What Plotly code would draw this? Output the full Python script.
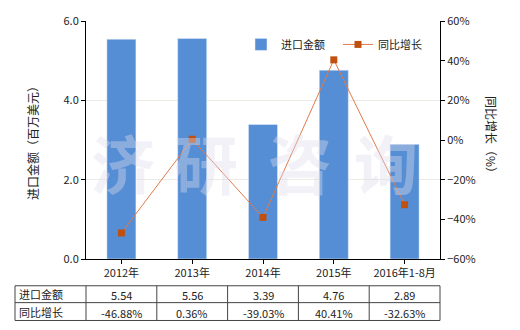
import plotly.graph_objects as go

categories = ["2012年", "2013年", "2014年", "2015年", "2016年1-8月"]
import_values = [5.54, 5.56, 3.39, 4.76, 2.89]
growth_values = [-46.88, 0.36, -39.03, 40.41, -32.63]
row_labels = ["进口金额", "同比增长"]

FONT = "Noto Sans CJK SC"
BAR_C = "#558ed5"
LINE_C = "#e07b4a"
MARK_C = "#c0500f"

fig = go.Figure()
fig.add_trace(go.Bar(x=categories, y=import_values, name="进口金额",
                     marker=dict(color=BAR_C), width=0.41, yaxis="y"))
fig.add_trace(go.Scatter(x=categories, y=growth_values, name="同比增长", yaxis="y2",
                         mode="lines+markers",
                         line=dict(color=LINE_C, width=1),
                         marker=dict(symbol="square", size=7, color=MARK_C)))

L, R, T, B = 86, 80, 19, 71
W, H = 520, 330
pw = W - L - R
ph = H - T - B


def px_x(v):
    return (v - L) / pw


def px_y(v):
    return (H - B - v) / ph


fig.update_layout(
    width=W, height=H,
    margin=dict(l=L, r=R, t=T, b=B),
    paper_bgcolor="white", plot_bgcolor="white",
    font=dict(family=FONT, size=11, color="#222"),
    showlegend=True,
    legend=dict(orientation="h", x=px_x(241), y=px_y(28), xanchor="left", yanchor="top",
                bgcolor="rgba(0,0,0,0)", font=dict(size=11), entrywidth=52,
                entrywidthmode="pixels", traceorder="normal"),
    bargap=0.59,
    xaxis=dict(showline=True, linecolor="black", linewidth=1, ticks="outside",
               ticklen=4, tickcolor="black", tickfont=dict(size=11), fixedrange=True),
    yaxis=dict(range=[0, 6], dtick=2, tickformat=".1f", showline=True, linecolor="black",
               ticks="outside", ticklen=4, tickcolor="black", showgrid=True,
               gridcolor="#ecebe3", zeroline=False,
               title=dict(text="进口金额（百万美元）", font=dict(size=12), standoff=22)),
    yaxis2=dict(range=[-60, 60], dtick=20, ticksuffix="%", overlaying="y", side="right",
                showline=True, linecolor="black", ticks="outside", ticklen=4,
                tickcolor="black", showgrid=False, zeroline=False),
)

# right axis title, reading top to bottom
fig.add_annotation(text="同比增长（%）", x=px_x(492), y=px_y(136), xref="paper", yref="paper",
                   textangle=90, showarrow=False, xanchor="center", yanchor="middle",
                   font=dict(size=12))

# watermark
for ch, cx in zip("济研咨询", [123, 206, 300, 386]):
    fig.add_annotation(text=ch, x=px_x(cx), y=px_y(160), xref="paper", yref="paper",
                       showarrow=False, xanchor="center", yanchor="middle",
                       font=dict(size=64, color="rgba(220,220,235,0.4)", family=FONT,
                                 weight="bold"))

# table
n = len(categories)
col_w = pw / n
table_left = 15
row_tops = [286, 303, 321]
shapes = []
xs = [table_left] + [L + i * col_w for i in range(n + 1)]
for x in xs:
    shapes.append(dict(type="line", xref="paper", yref="paper",
                       x0=px_x(x), x1=px_x(x), y0=px_y(row_tops[0]), y1=px_y(row_tops[-1]),
                       line=dict(color="#444", width=1)))
for y in row_tops:
    shapes.append(dict(type="line", xref="paper", yref="paper",
                       x0=px_x(table_left), x1=px_x(L + n * col_w), y0=px_y(y), y1=px_y(y),
                       line=dict(color="#444", width=1)))
fig.update_layout(shapes=shapes)

rows = [[f"{v:.2f}" for v in import_values], [f"{v:.2f}%" for v in growth_values]]
for r, (lab, vals) in enumerate(zip(row_labels, rows)):
    yc = (row_tops[r] + row_tops[r + 1]) / 2
    fig.add_annotation(text=lab, x=px_x(table_left + 2), y=px_y(yc), xref="paper", yref="paper",
                       xanchor="left", yanchor="middle", showarrow=False, font=dict(size=11))
    for i, t in enumerate(vals):
        fig.add_annotation(text=t, x=px_x(L + (i + 0.5) * col_w), y=px_y(yc + 1),
                           xref="paper", yref="paper", xanchor="center", yanchor="middle",
                           showarrow=False, font=dict(size=11))

fig.write_html("out.html")
